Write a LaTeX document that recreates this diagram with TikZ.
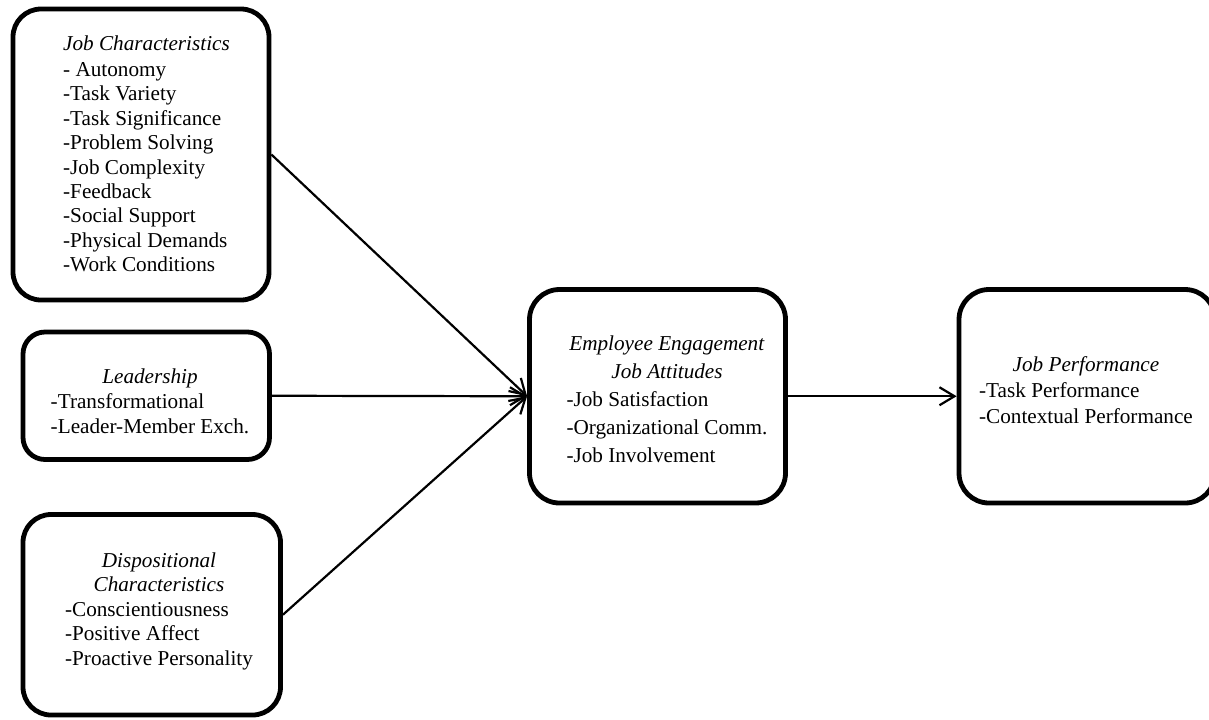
\documentclass[tikz,border=0pt]{standalone}
\usepackage{fontspec}
\setmainfont{Liberation Serif}
\usetikzlibrary{arrows.meta}
\begin{document}
\begin{tikzpicture}[x=0.5pt,y=-0.5pt,
  card/.style={draw, line width=2.4pt, rounded corners=#1, inner sep=0pt},
  card/.default=15pt,
  blurb/.style={inner sep=0pt, font=\fontsize{10.6pt}{#1}\selectfont},
  blurb/.default=12.5pt,
  link/.style={line width=1.1pt, -{Straight Barb[length=7.5pt,width=9pt]}}]

% page area
\path[use as bounding box, fill=white] (0,0) rectangle (1209,719);

% frames
\node[card=14pt, minimum width=128pt,    minimum height=145.5pt]  (jc) at (141,154.5)    {};
\node[card=11pt, minimum width=123.25pt, minimum height=63.75pt]  (ld) at (146.25,395.75) {};
\node[card=14pt, minimum width=128.75pt, minimum height=100.25pt] (dc) at (151.75,614.75) {};
\node[card=15pt, minimum width=128pt,    minimum height=106.75pt] (ee) at (657.5,396.25) {};
\node[card=15pt, minimum width=128pt,    minimum height=106.75pt] (jp) at (1087,396.25)  {};

% contents
\node[blurb=12.2pt] (jct) at (146.5,156) {\begin{tabular}{@{}l@{}}
  \multicolumn{1}{@{}c@{}}{\textit{Job Characteristics}}\\[1pt]
  - Autonomy\\
  -Task Variety\\
  -Task Significance\\
  -Problem Solving\\
  -Job Complexity\\
  -Feedback\\
  -Social Support\\
  -Physical Demands\\
  -Work Conditions
\end{tabular}};

\node[blurb=12.5pt] (ldt) at (150,403) {\begin{tabular}{@{}l@{}}
  \multicolumn{1}{@{}c@{}}{\textit{Leadership}}\\
  -Transformational\\
  -Leader-Member Exch.
\end{tabular}};

\node[blurb=12.3pt] (dct) at (159,611.3) {\begin{tabular}{@{}l@{}}
  \multicolumn{1}{@{}c@{}}{\textit{Dispositional}}\\
  \multicolumn{1}{@{}c@{}}{\textit{Characteristics}}\\
  -Conscientiousness\\
  -Positive Affect\\
  -Proactive Personality
\end{tabular}};

\node[blurb=14.1pt] (eet) at (667,400.8) {\begin{tabular}{@{}l@{}}
  \multicolumn{1}{@{}c@{}}{\textit{Employee Engagement}}\\
  \multicolumn{1}{@{}c@{}}{\textit{Job Attitudes}}\\
  -Job Satisfaction\\
  -Organizational Comm.\\
  -Job Involvement
\end{tabular}};

\node[blurb=12.85pt] (jpt) at (1086,392.2) {\begin{tabular}{@{}l@{}}
  \multicolumn{1}{@{}c@{}}{\textit{Job Performance}}\\
  -Task Performance\\
  -Contextual Performance
\end{tabular}};

% connectors
\draw[link] (jc.east) -- (ee.west);
\draw[link] (ld.east) -- (ee.west);
\draw[link] (dc.east) -- (ee.west);
\draw[link] (ee.east) -- (jp.west);
\end{tikzpicture}
\end{document}
